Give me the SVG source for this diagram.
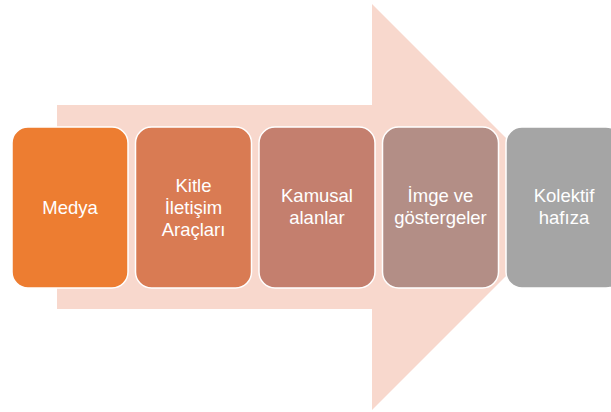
<svg xmlns="http://www.w3.org/2000/svg" width="611" height="412" viewBox="0 0 611 412">
<style>
.box{stroke:#ffffff;stroke-width:1.5}
.t{font-family:"Liberation Sans",Arial,sans-serif;font-size:18.5px;fill:#ffffff;text-anchor:middle}
</style>
<rect width="611" height="412" fill="#ffffff"/>
<g id="arrow">
<polygon points="57,105 372,105 372,4 575,207 372,410 372,309 57,309" fill="#F8D8CD"/>
</g>
<g id="connectors"></g>
<g id="n1"><rect class="box" x="12" y="127" width="116" height="161" rx="16" fill="#ED7D31"/>
<text class="t" x="70" y="213.5">Medya</text></g>
<g id="n2"><rect class="box" x="135.5" y="127" width="116" height="161" rx="16" fill="#D97B53"/>
<text class="t" x="193.5" y="192">Kitle</text><text class="t" x="193.5" y="214">İletişim</text><text class="t" x="193.5" y="236">Araçları</text></g>
<g id="n3"><rect class="box" x="259" y="127" width="116" height="161" rx="16" fill="#C47F6E"/>
<text class="t" x="317" y="202">Kamusal</text><text class="t" x="317" y="223.5">alanlar</text></g>
<g id="n4"><rect class="box" x="382.5" y="127" width="116" height="161" rx="16" fill="#B38E86"/>
<text class="t" x="440.5" y="202">İmge ve</text><text class="t" x="440.5" y="223.5">göstergeler</text></g>
<g id="n5"><rect class="box" x="506" y="127" width="116" height="161" rx="16" fill="#A5A5A5"/>
<text class="t" x="564" y="202">Kolektif</text><text class="t" x="564" y="223.5">hafıza</text></g>
</svg>
